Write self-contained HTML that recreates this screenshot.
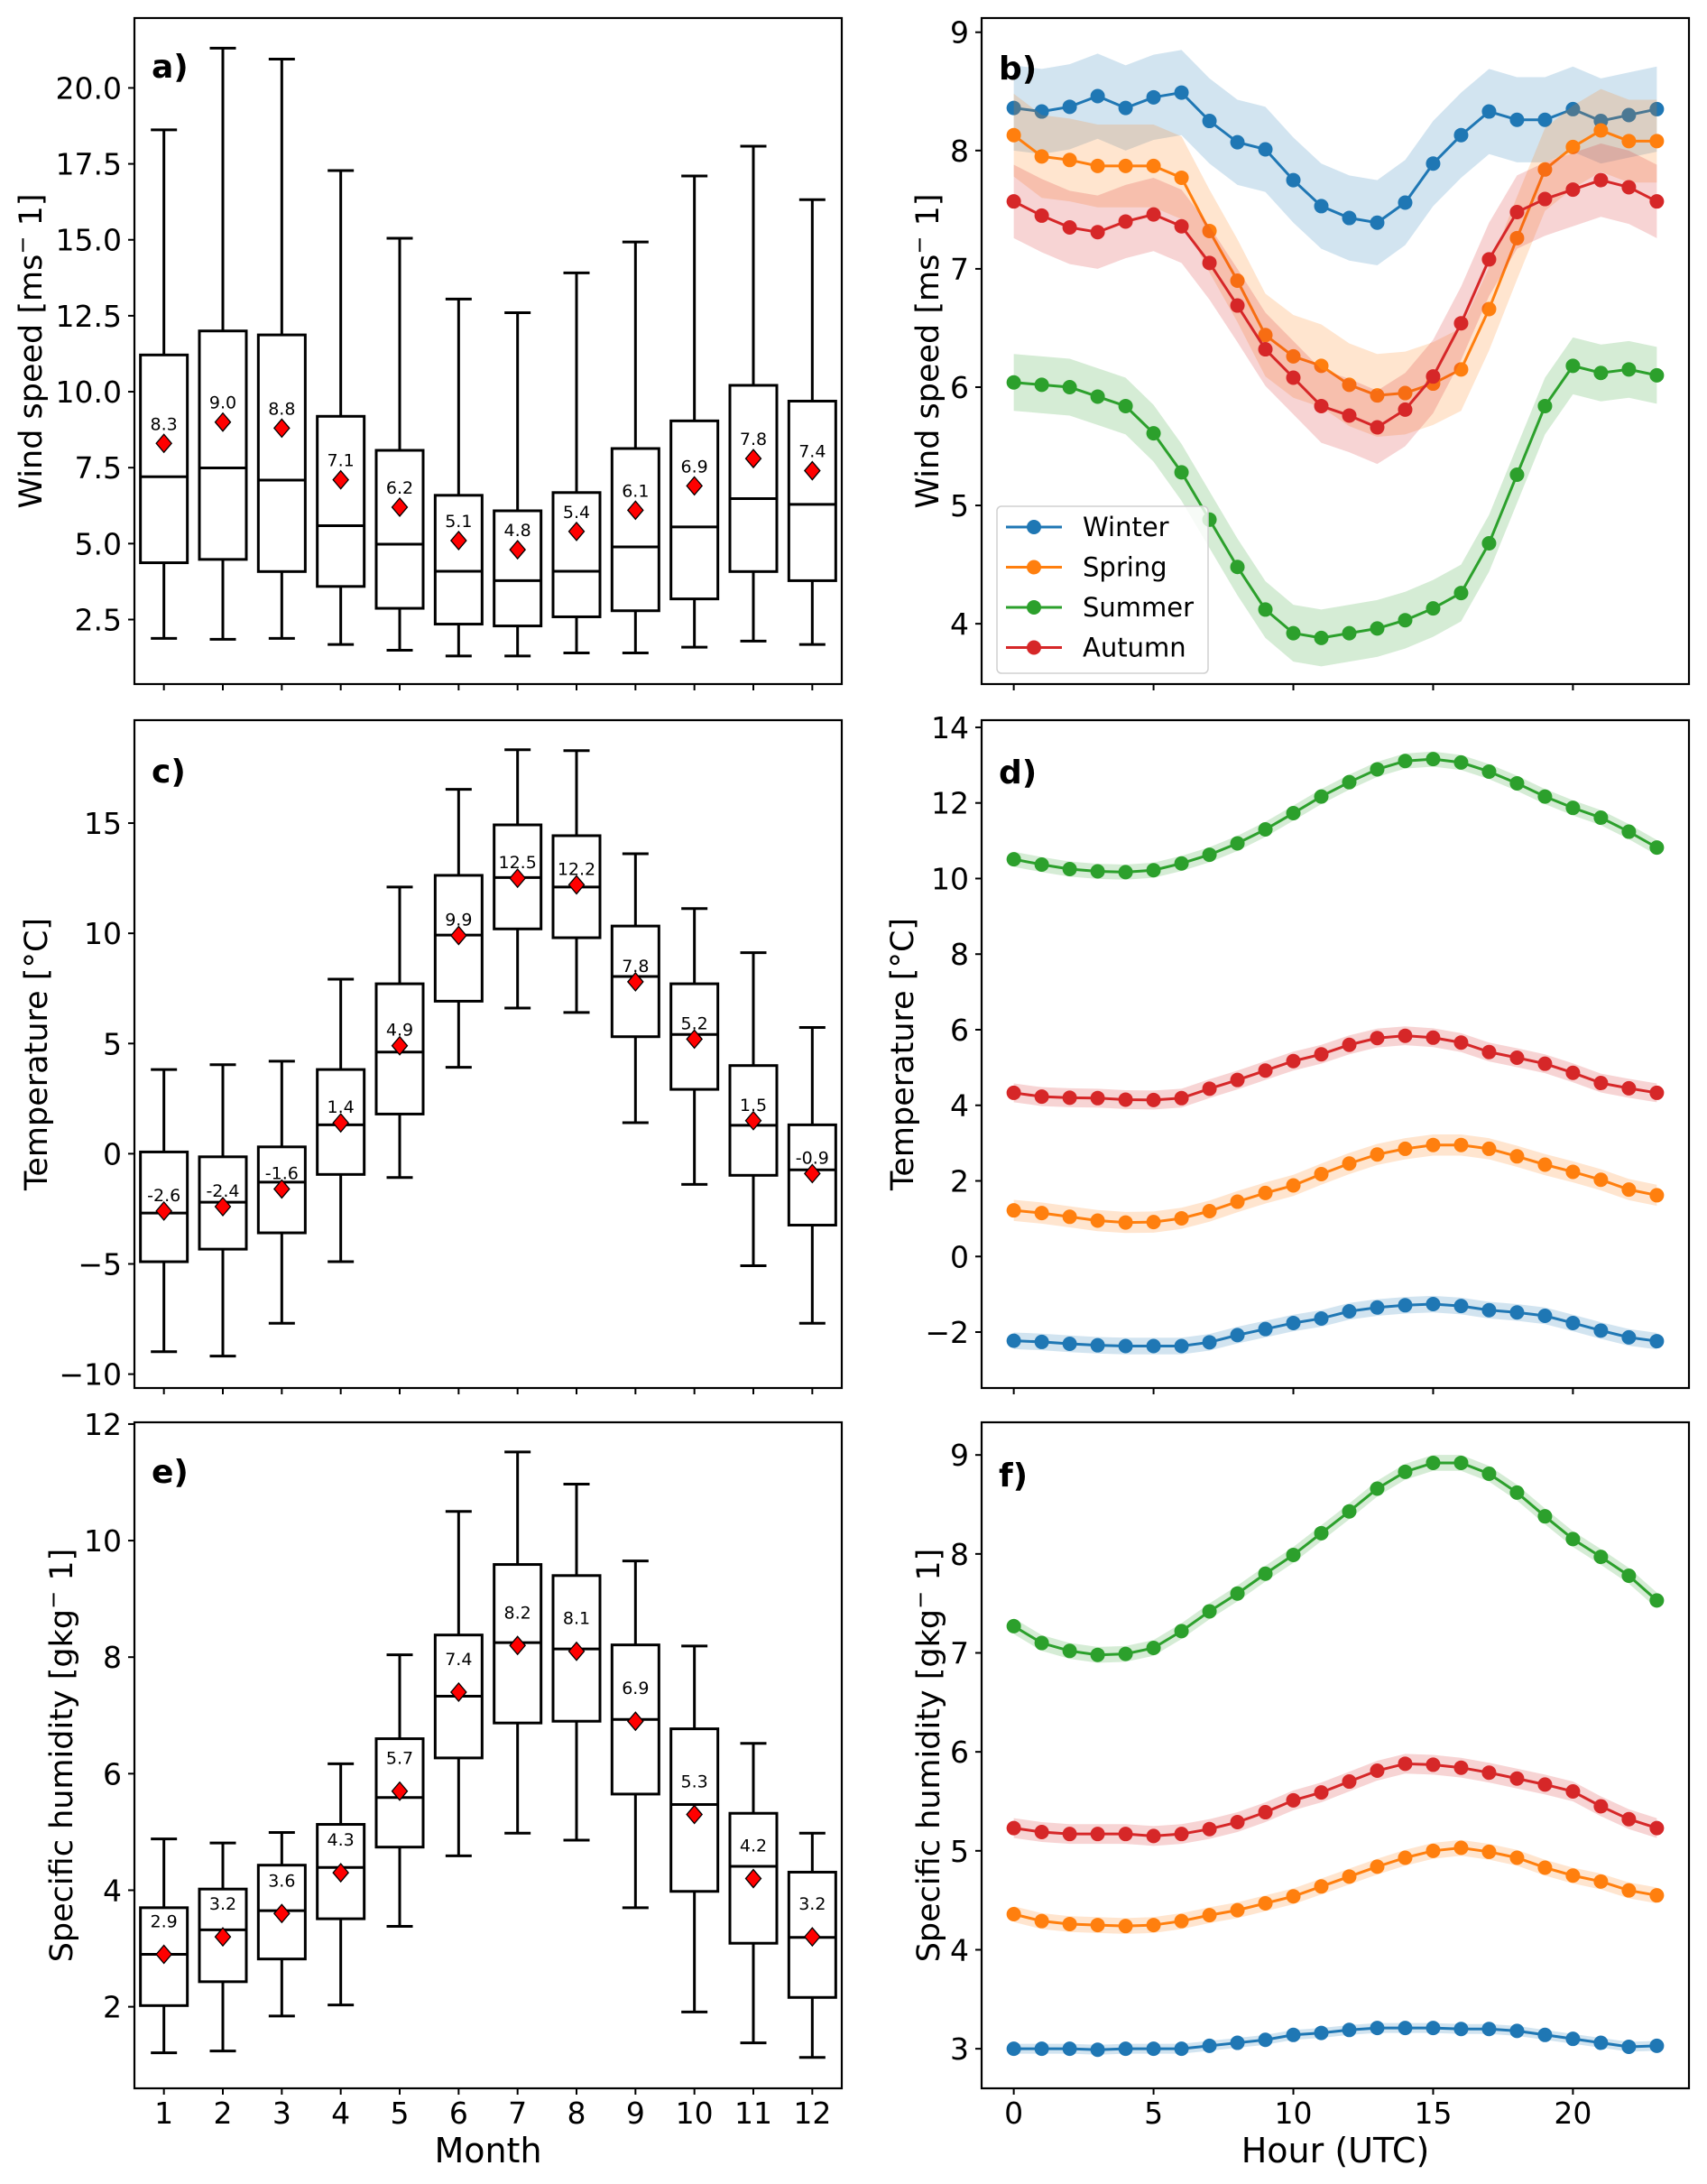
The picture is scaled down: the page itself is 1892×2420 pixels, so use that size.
<!DOCTYPE html>
<html><head><meta charset="utf-8"><title>Wind, temperature and humidity climatology</title>
<style>
html,body{margin:0;padding:0;background:#fff;}
svg{display:block;font-family:"DejaVu Sans","Liberation Sans",sans-serif;}
</style></head>
<body>
<svg id="fig" xmlns="http://www.w3.org/2000/svg" width="1892" height="2420" viewBox="0 0 1892 2420"></svg>
<script>
// ---------- DATA ----------
const months = [1,2,3,4,5,6,7,8,9,10,11,12];
const hours = [0,1,2,3,4,5,6,7,8,9,10,11,12,13,14,15,16,17,18,19,20,21,22,23];
const seasonNames = ["Winter","Spring","Summer","Autumn"];

// panel a: wind speed boxplots
const windWhisLo = [1.88,1.85,1.88,1.68,1.49,1.30,1.30,1.40,1.40,1.59,1.79,1.68];
const windQ1     = [4.37,4.48,4.08,3.59,2.87,2.35,2.29,2.59,2.79,3.18,4.08,3.78];
const windMed    = [7.20,7.49,7.09,5.59,4.98,4.09,3.78,4.09,4.89,5.55,6.48,6.29];
const windQ3     = [11.21,12.0,11.87,9.19,8.07,6.59,6.08,6.68,8.13,9.04,10.21,9.69];
const windWhisHi = [18.62,21.31,20.95,17.28,15.05,13.05,12.6,13.91,14.93,17.10,18.08,16.32];
const windMean   = [8.3,9.0,8.8,7.1,6.2,5.1,4.8,5.4,6.1,6.9,7.8,7.4];
const windTicks  = [2.5,5.0,7.5,10.0,12.5,15.0,17.5,20.0];

// panel c: temperature boxplots
const tempWhisLo = [-8.98,-9.18,-7.69,-4.90,-1.08,3.92,6.61,6.41,1.41,-1.39,-5.08,-7.69];
const tempQ1     = [-4.90,-4.33,-3.59,-0.94,1.80,6.92,10.20,9.80,5.31,2.92,-0.98,-3.24];
const tempMed    = [-2.69,-2.20,-1.29,1.31,4.61,9.92,12.53,12.10,8.04,5.41,1.29,-0.73];
const tempQ3     = [0.08,-0.14,0.31,3.82,7.71,12.63,14.92,14.43,10.33,7.71,4.00,1.31];
const tempWhisHi = [3.82,4.04,4.20,7.92,12.10,16.53,18.33,18.29,13.61,11.12,9.12,5.73];
const tempMean   = [-2.6,-2.4,-1.6,1.4,4.9,9.9,12.5,12.2,7.8,5.2,1.5,-0.9];
const tempTicks  = [-10,-5,0,5,10,15];

// panel e: specific humidity boxplots
const humWhisLo = [1.21,1.24,1.84,2.03,3.38,4.59,4.98,4.86,3.70,1.91,1.38,1.13];
const humQ1     = [2.02,2.43,2.82,3.51,4.74,6.27,6.87,6.90,5.65,3.98,3.09,2.16];
const humMed    = [2.90,3.32,3.65,4.39,5.59,7.33,8.25,8.14,6.93,5.47,4.41,3.19];
const humQ3     = [3.70,4.02,4.43,5.13,6.60,8.38,9.59,9.40,8.21,6.77,5.32,4.31];
const humWhisHi = [4.88,4.81,4.99,6.17,8.04,10.50,11.52,10.97,9.65,8.19,6.52,4.98];
const humMean   = [2.9,3.2,3.6,4.3,5.7,7.4,8.2,8.1,6.9,5.3,4.2,3.2];
const humTicks  = [2,4,6,8,10,12];

// panel b: diurnal wind speed
const windWinter = [8.36,8.33,8.37,8.46,8.36,8.45,8.49,8.25,8.07,8.01,7.75,7.53,7.43,7.39,7.56,7.89,8.13,8.33,8.26,8.26,8.35,8.25,8.30,8.35];
const windSpring = [8.13,7.95,7.92,7.87,7.87,7.87,7.77,7.32,6.90,6.44,6.26,6.18,6.02,5.93,5.95,6.03,6.15,6.66,7.26,7.84,8.03,8.17,8.08,8.08];
const windSummer = [6.04,6.02,6.00,5.92,5.84,5.61,5.28,4.88,4.48,4.12,3.92,3.88,3.92,3.96,4.03,4.13,4.26,4.68,5.26,5.84,6.18,6.12,6.15,6.10];
const windAutumn = [7.57,7.45,7.35,7.31,7.40,7.46,7.36,7.05,6.69,6.32,6.08,5.84,5.76,5.66,5.81,6.09,6.54,7.08,7.48,7.59,7.67,7.75,7.69,7.57];
const windSpread = [0.36,0.35,0.24,0.31];
const windHourTicks = [4,5,6,7,8,9];

// panel d: diurnal temperature
const tempWinter = [-2.23,-2.26,-2.31,-2.35,-2.37,-2.37,-2.37,-2.27,-2.08,-1.92,-1.76,-1.64,-1.45,-1.35,-1.29,-1.26,-1.31,-1.42,-1.48,-1.57,-1.76,-1.96,-2.14,-2.24];
const tempSpring = [1.22,1.15,1.05,0.95,0.90,0.91,1.01,1.20,1.45,1.68,1.88,2.18,2.46,2.70,2.85,2.95,2.95,2.85,2.65,2.43,2.24,2.03,1.77,1.62];
const tempSummer = [10.51,10.37,10.25,10.19,10.17,10.22,10.40,10.63,10.93,11.30,11.73,12.17,12.55,12.89,13.11,13.16,13.07,12.83,12.52,12.17,11.87,11.61,11.24,10.82];
const tempAutumn = [4.33,4.23,4.20,4.19,4.15,4.14,4.19,4.44,4.67,4.92,5.17,5.35,5.60,5.78,5.84,5.79,5.66,5.41,5.26,5.10,4.86,4.59,4.45,4.33];
const tempSpread = [0.22,0.28,0.2,0.25];
const tempHourTicks = [-2,0,2,4,6,8,10,12,14];

// panel f: diurnal specific humidity
const humWinter = [3.00,3.00,3.00,2.99,3.00,3.00,3.00,3.03,3.06,3.09,3.14,3.16,3.19,3.21,3.21,3.21,3.20,3.20,3.18,3.14,3.10,3.06,3.02,3.03];
const humSpring = [4.36,4.29,4.26,4.25,4.24,4.25,4.29,4.35,4.40,4.47,4.54,4.64,4.74,4.84,4.93,5.00,5.03,4.99,4.93,4.83,4.75,4.69,4.60,4.55];
const humSummer = [7.27,7.10,7.02,6.98,6.99,7.05,7.22,7.42,7.60,7.80,7.99,8.21,8.43,8.66,8.83,8.92,8.92,8.81,8.62,8.38,8.15,7.97,7.78,7.53];
const humAutumn = [5.23,5.19,5.17,5.17,5.17,5.15,5.17,5.22,5.29,5.39,5.51,5.59,5.70,5.81,5.88,5.87,5.84,5.79,5.73,5.67,5.60,5.45,5.32,5.23];
const humSpread = [0.05,0.08,0.08,0.1];
const humHourTicks = [3,4,5,6,7,8,9];

const hourTicks = [0,5,10,15,20];

// ---------- DRAWING ----------
const NS = "http://www.w3.org/2000/svg";
const svg = document.getElementById('fig');
const colors = ["#1f77b4","#ff7f0e","#2ca02c","#d62728"];

function mk(tag, attrs, parent){
  const e = document.createElementNS(NS, tag);
  for (const k in attrs) e.setAttribute(k, attrs[k]);
  (parent||svg).appendChild(e);
  return e;
}
function linScale(d0,d1,r0,r1){ return v => r0 + (v-d0)/(d1-d0)*(r1-r0); }

const L = {left:149, right:933}, R = {left:1088, right:1872};
const rows = [{top:20,bottom:758},{top:798,bottom:1538},{top:1576,bottom:2314}];

function axesFrame(g, box, name){
  const r = mk('rect',{x:box.left,y:box.top,width:box.right-box.left,height:box.bottom-box.top,fill:'none',stroke:'#000','stroke-width':2.2},g);
  
  
}
function yAxis(g, box, ys, ticks, fmt, name){
  const ga = mk('g',{},g);
  
  
  ticks.forEach(t=>{
    const y = ys(t);
    mk('line',{x1:box.left-7,x2:box.left,y1:y,y2:y,stroke:'#000','stroke-width':2},ga);
    const tx = mk('text',{x:box.left-14,y:y+12,'text-anchor':'end','font-size':33},ga);
    tx.textContent = fmt(t);
    
    
  });
}
function xTicks(g, box, xs, ticks, showLabels, name){
  const ga = mk('g',{},g);
  
  
  ticks.forEach(t=>{
    const x = xs(t);
    mk('line',{x1:x,x2:x,y1:box.bottom,y2:box.bottom+7,stroke:'#000','stroke-width':2},ga);
    if (showLabels){
      const tx = mk('text',{x:x,y:box.bottom+39,'text-anchor':'middle','font-size':33},ga);
      tx.textContent = String(t);
      
      
    }
  });
}
function yTitle(g, x, yc, main, sup, tail, name){
  const t = mk('text',{transform:`translate(${x},${yc}) rotate(-90)`,'text-anchor':'middle','font-size':35},g);
  
  
  const a = mk('tspan',{},t); a.textContent = main;
  if (sup){
    const s = mk('tspan',{dy:-13,'font-size':24},t); s.textContent = sup;
    const c = mk('tspan',{dy:13},t); c.textContent = tail;
  }
}
function panelLetter(g, x, y, txt){
  const t = mk('text',{x:x,y:y,'font-size':36,'font-weight':'bold'},g);
  t.textContent = txt;
  
  
}

function boxPanel(opt){
  const g = mk('g',{});
  
  
  const box = Object.assign({}, L, rows[opt.row]);
  const xs = linScale(0.5,12.5,box.left,box.right);
  const ys = linScale(opt.ymin,opt.ymax,box.bottom,box.top);
  const bw = 52, cw = 29;
  months.forEach((m,i)=>{
    const gb = mk('g',{},g);
    
    
    const x = xs(m);
    const st = {stroke:'#000','stroke-width':3,fill:'none'};
    mk('line',Object.assign({x1:x,x2:x,y1:ys(opt.hi[i]),y2:ys(opt.q3[i])},st),gb);
    mk('line',Object.assign({x1:x,x2:x,y1:ys(opt.q1[i]),y2:ys(opt.lo[i])},st),gb);
    mk('line',Object.assign({x1:x-cw/2,x2:x+cw/2,y1:ys(opt.hi[i]),y2:ys(opt.hi[i])},st),gb);
    mk('line',Object.assign({x1:x-cw/2,x2:x+cw/2,y1:ys(opt.lo[i]),y2:ys(opt.lo[i])},st),gb);
    mk('rect',Object.assign({x:x-bw/2,y:ys(opt.q3[i]),width:bw,height:ys(opt.q1[i])-ys(opt.q3[i])},st),gb);
    mk('line',Object.assign({x1:x-bw/2,x2:x+bw/2,y1:ys(opt.med[i]),y2:ys(opt.med[i])},st),gb);
    const my = ys(opt.mean[i]);
    const d = mk('polygon',{points:`${x},${my-10} ${x+8.5},${my} ${x},${my+10} ${x-8.5},${my}`,fill:'#ff0000',stroke:'#000','stroke-width':1.3},gb);
    
    
    const lt = mk('text',{x:x,y:my-opt.lblOff,'text-anchor':'middle','font-size':19},gb);
    lt.textContent = opt.mean[i].toFixed(1);
    
    
  });
  axesFrame(g, box, opt.name);
  yAxis(g, box, ys, opt.ticks, opt.fmt, opt.name);
  xTicks(g, box, xs, months, opt.row===2, opt.name);
  panelLetter(g, box.left+19, opt.letterY, opt.letter);
  yTitle(g, opt.titleX, (box.top+box.bottom)/2, opt.title, opt.sup, opt.tail, opt.name+'-y-title');
}

function linePanel(opt){
  const g = mk('g',{});
  
  
  const box = Object.assign({}, R, rows[opt.row]);
  const xs = linScale(-1.15,24.15,box.left,box.right);
  const ys = linScale(opt.ymin,opt.ymax,box.bottom,box.top);
  opt.series.forEach((vals,si)=>{
    const gs = mk('g',{},g);
    
    
    const sp = opt.spread[si];
    const up = hours.map((h,i)=>`${xs(h)},${ys(vals[i]+sp)}`);
    const dn = hours.map((h,i)=>`${xs(h)},${ys(vals[i]-sp)}`).reverse();
    const band = mk('polygon',{points:up.concat(dn).join(' '),fill:colors[si],'fill-opacity':0.2,stroke:'none'},gs);
    
    
    mk('polyline',{points:hours.map((h,i)=>`${xs(h)},${ys(vals[i])}`).join(' '),fill:'none',stroke:colors[si],'stroke-width':3},gs);
    hours.forEach((h,i)=>{
      const c = mk('circle',{cx:xs(h),cy:ys(vals[i]),r:8,fill:colors[si]},gs);
      
      
    });
  });
  axesFrame(g, box, opt.name);
  yAxis(g, box, ys, opt.ticks, t=>t<0?'\u2212'+Math.abs(t):String(t), opt.name);
  xTicks(g, box, xs, hourTicks, opt.row===2, opt.name);
  panelLetter(g, box.left+19, opt.letterY, opt.letter);
  yTitle(g, opt.titleX, (box.top+box.bottom)/2, opt.title, opt.sup, opt.tail, opt.name+'-y-title');
  if (opt.legend){
    const lg = mk('g',{},g);
    
    
    mk('rect',{x:1105,y:561,width:234,height:185,rx:5,fill:'#fff','fill-opacity':0.8,stroke:'#d0d0d0','stroke-width':1.5},lg);
    seasonNames.forEach((n,i)=>{
      const y = 584 + i*44.5;
      const e = mk('g',{},lg);
      
      
      mk('line',{x1:1115,x2:1177,y1:y,y2:y,stroke:colors[i],'stroke-width':3},e);
      mk('circle',{cx:1146,cy:y,r:8,fill:colors[i]},e);
      const t = mk('text',{x:1200,y:y+10,'font-size':29},e);
      t.textContent = n;
    });
  }
}

const fmtDec = t=>t.toFixed(1);
const fmtInt = t=>t<0?'\u2212'+Math.abs(t):String(t);

boxPanel({name:'panel-a-wind-boxplot',row:0,ymin:0.376,ymax:22.30,lo:windWhisLo,q1:windQ1,med:windMed,q3:windQ3,hi:windWhisHi,mean:windMean,ticks:windTicks,fmt:fmtDec,lblOff:15,letter:'a)',letterY:86,title:'Wind speed [ms',sup:'\u2212',tail:' 1]',titleX:46});
boxPanel({name:'panel-c-temperature-boxplot',row:1,ymin:-10.63,ymax:19.67,lo:tempWhisLo,q1:tempQ1,med:tempMed,q3:tempQ3,hi:tempWhisHi,mean:tempMean,ticks:tempTicks,fmt:fmtInt,lblOff:11,letter:'c)',letterY:867,title:'Temperature [\u00b0C]',titleX:52});
boxPanel({name:'panel-e-humidity-boxplot',row:2,ymin:0.60,ymax:12.03,lo:humWhisLo,q1:humQ1,med:humMed,q3:humQ3,hi:humWhisHi,mean:humMean,ticks:humTicks,fmt:fmtInt,lblOff:30,letter:'e)',letterY:1643,title:'Specific humidity [gkg',sup:'\u2212',tail:' 1]',titleX:80});

linePanel({name:'panel-b-wind-diurnal',row:0,ymin:3.49,ymax:9.12,series:[windWinter,windSpring,windSummer,windAutumn],spread:windSpread,ticks:windHourTicks,letter:'b)',letterY:88,title:'Wind speed [ms',sup:'\u2212',tail:' 1]',titleX:1040,legend:true});
linePanel({name:'panel-d-temperature-diurnal',row:1,ymin:-3.48,ymax:14.19,series:[tempWinter,tempSpring,tempSummer,tempAutumn],spread:tempSpread,ticks:tempHourTicks,letter:'d)',letterY:868,title:'Temperature [\u00b0C]',titleX:1012});
linePanel({name:'panel-f-humidity-diurnal',row:2,ymin:2.60,ymax:9.33,series:[humWinter,humSpring,humSummer,humAutumn],spread:humSpread,ticks:humHourTicks,letter:'f)',letterY:1647,title:'Specific humidity [gkg',sup:'\u2212',tail:' 1]',titleX:1041});

const mx = mk('text',{x:541,y:2396,'text-anchor':'middle','font-size':38});
mx.textContent = 'Month';


const hx = mk('text',{x:1480,y:2396,'text-anchor':'middle','font-size':38});
hx.textContent = 'Hour (UTC)';


</script>
</body></html>
